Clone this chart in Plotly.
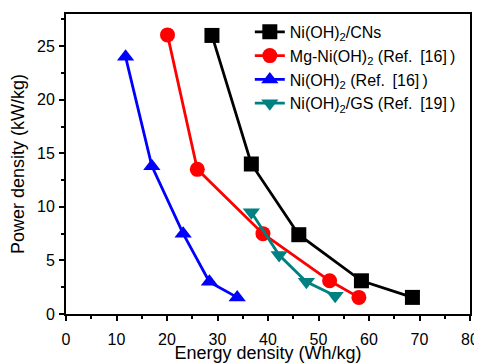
import plotly.graph_objects as go

cns_x = [28.9, 36.7, 46.1, 58.5, 68.6]
cns_y = [26.0, 14.0, 7.4, 3.1, 1.55]
mg_x = [20.1, 26.0, 39.0, 52.2, 58.0]
mg_y = [26.05, 13.5, 7.5, 3.1, 1.55]
ni_x = [11.8, 17.0, 23.2, 28.4, 33.9]
ni_y = [24.0, 13.8, 7.5, 3.0, 1.55]
gs_x = [36.7, 42.2, 47.6, 53.3]
gs_y = [9.5, 5.5, 3.0, 1.7]

names = ["Ni(OH)<sub>2</sub>/CNs",
         "Mg-Ni(OH)<sub>2</sub> (Ref. \u2009[16]\u2009)",
         "Ni(OH)<sub>2</sub> (Ref. \u2009[16]\u2009)",
         "Ni(OH)<sub>2</sub>/GS (Ref. \u2009[19]\u2009)"]
colors = ["#000000", "#FF0000", "#0000FF", "#008080"]
symbols = ["square", "circle", "triangle-up", "triangle-down"]
xs = [cns_x, mg_x, ni_x, gs_x]
ys = [cns_y, mg_y, ni_y, gs_y]

fig = go.Figure()
for x, y, n, c, s in zip(xs, ys, names, colors, symbols):
    fig.add_trace(go.Scatter(x=x, y=y, name=n, mode="lines+markers",
                             line=dict(color=c, width=2.8),
                             marker=dict(symbol=s, color=c, size=15)))

axis_common = dict(showline=True, linewidth=2, linecolor="black", mirror=True,
                   showgrid=False, zeroline=False, ticks="outside", ticklen=5,
                   tickwidth=2, tickcolor="black", automargin=False,
                   tickfont=dict(family="Liberation Sans, Arial", size=16, color="black"))
minor_common = dict(ticks="outside", ticklen=3, tickwidth=2, tickcolor="black")

# page body has an 8px margin; size the figure so the plot area lands where the reference's does
fig.update_layout(
    width=474, height=355,
    margin=dict(l=58, r=12, t=6, b=49),
    paper_bgcolor="white", plot_bgcolor="white",
    font=dict(family="Liberation Sans, Arial", color="black"),
    xaxis=dict(range=[0, 80], dtick=10, ticklabelstandoff=5,
               minor=dict(dtick=5, **minor_common),
               title=dict(text="Energy density (Wh/kg)", font=dict(size=18), standoff=0),
               **axis_common),
    yaxis=dict(range=[0, 28], tickvals=[0, 5, 10, 15, 20, 25], ticklabelstandoff=1,
               minor=dict(tickvals=[2.5, 7.5, 12.5, 17.5, 22.5, 27.5], **minor_common),
               title=dict(text="Power density (kW/kg)", font=dict(size=18)),
               **axis_common),
    legend=dict(x=0.455, y=0.997, xanchor="left", yanchor="top",
                bgcolor="rgba(0,0,0,0)", font=dict(size=16), tracegroupgap=0,
                itemwidth=30),
    showlegend=True,
)

fig.write_html("out.html")
